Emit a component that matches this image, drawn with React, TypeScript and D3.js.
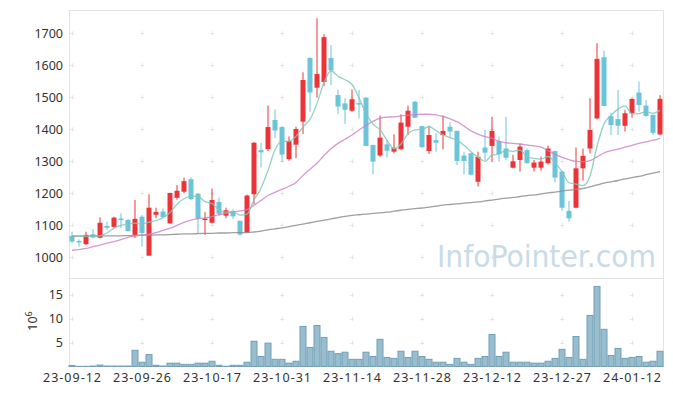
import React from "react";
import * as d3 from "d3";

const dates = [
  "23-09-12","23-09-13","23-09-14","23-09-15","23-09-18","23-09-19","23-09-20","23-09-21","23-09-22","23-09-25",
  "23-09-26","23-09-27","23-10-04","23-10-05","23-10-06","23-10-10","23-10-11","23-10-12","23-10-13","23-10-16",
  "23-10-17","23-10-18","23-10-19","23-10-20","23-10-23","23-10-24","23-10-25","23-10-26","23-10-27","23-10-30",
  "23-10-31","23-11-01","23-11-02","23-11-03","23-11-06","23-11-07","23-11-08","23-11-09","23-11-10","23-11-13",
  "23-11-14","23-11-15","23-11-16","23-11-17","23-11-20","23-11-21","23-11-22","23-11-23","23-11-24","23-11-27",
  "23-11-28","23-11-29","23-11-30","23-12-01","23-12-04","23-12-05","23-12-06","23-12-07","23-12-08","23-12-11",
  "23-12-12","23-12-13","23-12-14","23-12-15","23-12-18","23-12-19","23-12-20","23-12-21","23-12-22","23-12-26",
  "23-12-27","23-12-28","24-01-02","24-01-03","24-01-04","24-01-05","24-01-08","24-01-09","24-01-10","24-01-11",
  "24-01-12","24-01-15","24-01-16","24-01-17","24-01-18"
];

const opens = [
  1067,1051,1041,1072,1061,1098,1095,1121,1117,1070,
  1127,1005,1133,1143,1106,1186,1205,1244,1199,1118,
  1108,1173,1130,1145,1114,1077,1197,1335,1338,1429,
  1407,1307,1352,1424,1623,1530,1548,1623,1507,1481,
  1458,1482,1499,1351,1318,1353,1330,1338,1408,1486,
  1410,1332,1366,1382,1408,1395,1318,1325,1236,1343,
  1348,1363,1340,1280,1304,1335,1280,1280,1294,1332,
  1268,1145,1155,1278,1340,1434,1625,1441,1432,1411,
  1450,1515,1474,1445,1384
];
const highs = [
  1080,1056,1080,1088,1125,1111,1127,1137,1119,1179,
  1132,1197,1155,1153,1202,1226,1249,1250,1200,1141,
  1215,1187,1155,1150,1115,1196,1360,1358,1474,1462,
  1410,1378,1408,1578,1625,1747,1697,1663,1523,1497,
  1525,1523,1500,1352,1443,1366,1384,1447,1474,1489,
  1411,1411,1387,1443,1422,1396,1330,1327,1330,1398,
  1439,1377,1439,1320,1356,1340,1304,1315,1349,1333,
  1270,1176,1343,1340,1497,1669,1646,1452,1523,1460,
  1497,1549,1491,1446,1507
];
const lows = [
  1045,1033,1038,1059,1059,1085,1091,1091,1080,1060,
  1033,1005,1122,1122,1105,1180,1200,1179,1075,1070,
  1106,1128,1122,1120,1068,1076,1166,1281,1332,1372,
  1298,1302,1310,1385,1455,1499,1535,1538,1448,1417,
  1455,1434,1347,1259,1314,1312,1325,1335,1382,1436,
  1343,1323,1330,1337,1374,1288,1259,1256,1221,1304,
  1299,1299,1304,1278,1268,1293,1268,1271,1290,1234,
  1145,1111,1153,1240,1325,1431,1472,1382,1382,1393,
  1436,1455,1439,1382,1382
];
const closes = [
  1049,1048,1070,1062,1108,1092,1124,1116,1082,1120,
  1076,1155,1142,1126,1201,1208,1238,1182,1120,1121,
  1179,1136,1147,1128,1071,1193,1358,1328,1407,1396,
  1321,1363,1401,1554,1515,1573,1688,1584,1471,1461,
  1494,1478,1348,1299,1374,1333,1342,1421,1458,1436,
  1344,1382,1358,1395,1393,1301,1301,1258,1314,1327,
  1395,1322,1311,1300,1346,1294,1296,1299,1340,1249,
  1155,1122,1278,1317,1398,1620,1473,1413,1411,1450,
  1495,1476,1442,1389,1495
];
// volume in millions (10^6)
const volumes = [
  0.2,0.03,0.03,0.1,0.3,0.1,0.1,0.1,0.1,3.4,
  0.9,2.5,0.25,0.1,0.7,0.7,0.45,0.45,0.7,0.7,
  1.1,0.25,0.05,0.25,0.25,0.9,5.3,2.1,4.9,1.5,
  1.5,0.7,1.1,8.4,4.0,8.6,6.1,3.2,2.7,3.0,
  1.5,1.5,3.0,2.1,5.7,1.9,1.7,3.2,1.9,3.2,
  2.1,1.5,0.9,0.9,0.45,1.7,0.9,0.45,1.7,2.1,
  6.7,2.1,3.0,0.9,0.9,0.9,0.7,0.7,1.1,1.7,
  3.6,1.9,6.3,1.5,10.7,16.8,7.8,2.3,3.8,1.7,
  1.9,2.1,0.9,1.1,3.2
];
const ma5 = [
  1068,1067,1066,1066,1067,1076,1091,1100,1104,1107,
  1104,1110,1115,1124,1140,1166,1183,1191,1190,1174,
  1168,1148,1141,1142,1132,1135,1179,1216,1271,1336,
  1362,1363,1378,1407,1431,1481,1546,1583,1566,1555,
  1540,1498,1450,1416,1399,1366,1339,1354,1386,1398,
  1400,1408,1396,1383,1374,1366,1350,1330,1313,1300,
  1319,1323,1334,1331,1335,1315,1309,1307,1315,1296,
  1268,1233,1229,1224,1254,1347,1417,1444,1463,1473,
  1448,1449,1455,1450,1459
];
const ma20 = [
  1022,1024,1028,1033,1038,1044,1049,1055,1062,1067,
  1069,1072,1077,1084,1091,1100,1109,1116,1121,1123,
  1127,1133,1137,1142,1145,1149,1163,1178,1193,1203,
  1212,1222,1234,1256,1275,1294,1318,1339,1356,1369,
  1382,1398,1412,1425,1435,1438,1439,1442,1444,1446,
  1447,1447,1445,1440,1433,1424,1410,1395,1385,1377,
  1372,1362,1358,1356,1354,1351,1348,1344,1333,1322,
  1312,1305,1300,1299,1302,1314,1326,1333,1338,1344,
  1350,1356,1361,1366,1372
];
const ma120 = [
  1066,1066,1066,1066,1067,1067,1067,1067,1068,1068,
  1069,1069,1070,1070,1071,1072,1073,1073,1074,1075,
  1075,1076,1076,1077,1077,1077,1079,1082,1086,1089,
  1092,1096,1100,1104,1108,1112,1116,1120,1124,1128,
  1131,1133,1135,1137,1139,1141,1144,1147,1150,1152,
  1154,1157,1160,1163,1165,1167,1169,1171,1173,1176,
  1179,1182,1185,1187,1190,1193,1195,1198,1201,1204,
  1207,1210,1212,1215,1220,1226,1232,1236,1240,1245,
  1249,1253,1258,1263,1268
];

const xTickLabels = ["23-09-12","23-09-26","23-10-17","23-10-31","23-11-14","23-11-28","23-12-12","23-12-27","24-01-12"];
const priceTicks = [1000, 1100, 1200, 1300, 1400, 1500, 1600, 1700];
const volTicks = [5, 10, 15];

const W = 673, H = 396;
const LEFT = 68.5, RIGHT = 663.5, TOP = 10.5, SEP = 278.5, BOTTOM = 367;
const FONT = "'Noto Sans', sans-serif";

export default function App() {
  const x = d3.scaleBand<string>().domain(dates).range([LEFT, RIGHT]).padding(0);
  const bw = x.bandwidth();
  const cx = (i: number) => (x(dates[i]) as number) + bw / 2;
  const y = d3.scaleLinear().domain([1000, 1700]).range([257.3, 33.3]);
  const yv = d3.scaleLinear().domain([0, 15]).range([366.5, 295]);

  const mkLine = (arr: number[]) =>
    d3.line<number>().x((_, i) => cx(i)).y((v) => y(v)).curve(d3.curveMonotoneX)(arr) || "";

  const up = "#ec3438";
  const down = "#6cc4db";
  const candleW = 5;

  const crossXs = xTickLabels.map((d) => cx(dates.indexOf(d)));
  const cross = (px: number, py: number, k: string) => (
    <g key={k} stroke="#e6e6e6" strokeWidth={1}>
      <line x1={px - 2} x2={px + 2} y1={Math.round(py) + 0.5} y2={Math.round(py) + 0.5} />
      <line x1={Math.round(px) + 0.5} x2={Math.round(px) + 0.5} y1={py - 2} y2={py + 2} />
    </g>
  );

  return (
    <div style={{ position: "absolute", left: 0, top: 0 }}>
      <svg width={W} height={H} style={{ display: "block", background: "#fff" }}>
        <defs>
          <clipPath id="pclip">
            <rect x={LEFT} y={TOP} width={RIGHT - LEFT} height={SEP - TOP} />
          </clipPath>
        </defs>
        {/* grid crosses */}
        {crossXs.map((px, a) => priceTicks.map((t, b) => cross(px, y(t), `p${a}-${b}`)))}
        {crossXs.map((px, a) => volTicks.map((t, b) => cross(px, yv(t), `v${a}-${b}`)))}

        {/* watermark */}
        <text x={437} y={267} fontFamily="'DejaVu Sans', sans-serif" fontSize={30} fill="#c8dbe6"
          textLength={219} lengthAdjust="spacingAndGlyphs">InfoPointer.com</text>

        {/* frame */}
        <g stroke="#e3e3e3" strokeWidth={1} fill="none">
          <line x1={LEFT} x2={RIGHT} y1={TOP} y2={TOP} />
          <line x1={LEFT} x2={RIGHT} y1={SEP} y2={SEP} />
          <line x1={69.5} x2={69.5} y1={TOP} y2={BOTTOM} />
          <line x1={663.5} x2={663.5} y1={TOP} y2={BOTTOM} />
        </g>

        {/* candles */}
        <g clipPath="url(#pclip)">
          {dates.map((d, i) => {
            const o = opens[i], c = closes[i];
            const col = c >= o ? up : down;
            const top = y(Math.max(o, c)), bot = y(Math.min(o, c));
            const xc = Math.round(cx(i));
            return (
              <g key={d}>
                <line x1={xc} x2={xc} y1={y(highs[i])} y2={y(lows[i])} stroke={col} strokeWidth={1} />
                <rect x={xc - candleW / 2} y={top} width={candleW} height={Math.max(1.5, bot - top)} fill={col} />
              </g>
            );
          })}
          <path d={mkLine(ma120)} fill="none" stroke="#8e8e8e" strokeOpacity={0.85} strokeWidth={1.3} />
          <path d={mkLine(ma20)} fill="none" stroke="#cc7fc4" strokeOpacity={0.8} strokeWidth={1.3} />
          <path d={mkLine(ma5)} fill="none" stroke="#7fc8ba" strokeOpacity={0.85} strokeWidth={1.3} />
        </g>

        {/* volume */}
        <g>
          {dates.map((d, i) => {
            const x0 = x(d) as number;
            const top = yv(volumes[i]);
            return (
              <rect key={d} x={x0 + 0.5} y={top} width={bw - 1} height={Math.max(0, yv(0) - top)}
                fill="#98bdcf" stroke="#729fb6" strokeWidth={1} />
            );
          })}
        </g>

        {/* y labels */}
        <g fontFamily={FONT} fontSize={12.5} fill="#333" textAnchor="end">
          {priceTicks.map((t) => (
            <text key={t} x={63} y={y(t)} dy="0.35em">{t}</text>
          ))}
          {volTicks.map((t) => (
            <text key={t} x={63} y={yv(t)} dy="0.35em">{t}</text>
          ))}
        </g>
        <text transform="translate(37,321) rotate(-90)" textAnchor="middle" fontFamily={FONT} fontSize={12.5} fill="#333">
          10<tspan dy={-5} fontSize={9}>6</tspan>
        </text>

        {/* x labels */}
        <g fontFamily={FONT} fontSize={12.5} fill="#333">
          {xTickLabels.map((d) => (
            <text key={d} x={cx(dates.indexOf(d)) - 29} y={381.5} textLength={58} lengthAdjust="spacing">{d}</text>
          ))}
        </g>
      </svg>
    </div>
  );
}
